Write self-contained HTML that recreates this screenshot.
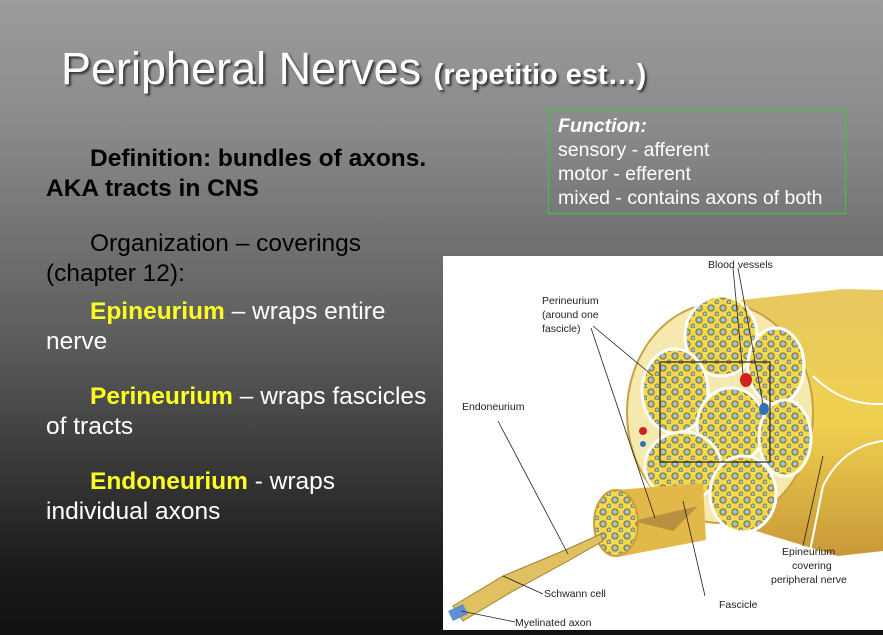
<!DOCTYPE html>
<html><head><style>
body{margin:0;width:883px;height:635px;overflow:hidden;background:linear-gradient(180deg,#9c9c9c 0%,#8a8a8a 20%,#5a5a5a 55%,#1a1a1a 90%,#111 100%);font-family:"Liberation Sans",sans-serif;position:relative}
.t{position:absolute;white-space:nowrap}
h1{position:absolute;left:61px;top:43px;margin:0;font-weight:normal;font-size:45px;color:#fff;text-shadow:2px 2px 2px #333}
h1 span{font-size:29px;font-weight:bold}
.y{color:#ffff22;font-weight:bold}
.b{font-size:24.5px;color:#000;line-height:30px}
.w{font-size:24.5px;color:#fff;line-height:30px}
.box{position:absolute;left:548px;top:108px;width:298px;height:106px;border:1.5px solid #3c3;color:#fff;font-size:19.5px;line-height:24px;padding:5px 0 0 9px;box-sizing:border-box}
</style></head><body>
<h1>Peripheral Nerves <span>(repetitio est…)</span></h1>
<div class="box"><i><b>Function:</b></i><br>sensory - afferent<br>motor - efferent<br>mixed - contains axons of both</div>
<div class="t b" style="left:46px;top:144px;font-weight:bold"><span style="padding-left:44px"></span>Definition: bundles of axons.<br>AKA tracts in CNS</div>
<div class="t b" style="left:46px;top:229px"><span style="padding-left:44px"></span>Organization – coverings<br>(chapter 12):</div>
<div class="t w" style="left:46px;top:297px"><span style="padding-left:44px"></span><span class="y">Epineurium</span> – wraps entire<br>nerve</div>
<div class="t w" style="left:46px;top:382px"><span style="padding-left:44px"></span><span class="y">Perineurium</span> – wraps fascicles<br>of tracts</div>
<div class="t w" style="left:46px;top:467px"><span style="padding-left:44px"></span><span class="y">Endoneurium</span> - wraps<br>individual axons</div>
<svg style="position:absolute;left:443px;top:256px" width="440" height="374" viewBox="0 0 440 374">
<defs>
<pattern id="p" width="12" height="12" patternUnits="userSpaceOnUse">
<rect width="12" height="12" fill="#eedc50"/>
<circle cx="4" cy="4" r="3" fill="#8cc8e0" stroke="#a07030" stroke-width="1.3"/>
<circle cx="10" cy="10" r="2" fill="#8cc8e0" stroke="#a07030" stroke-width="1"/>
</pattern>
<linearGradient id="g" x1="0" y1="0" x2="0" y2="1">
<stop offset="0" stop-color="#e8c860"/><stop offset="0.5" stop-color="#f0d050"/><stop offset="1" stop-color="#c89838"/>
</linearGradient>
</defs>
<rect width="440" height="374" fill="#fff"/>
<path d="M270 47 L400 33 L440 34 L440 295 L395 300 L290 268 Z" fill="url(#g)"/>
<path d="M370 120 Q400 150 440 148" fill="none" stroke="#fff" stroke-width="2"/>
<path d="M365 305 L380 230 Q400 190 440 185" fill="none" stroke="#fff" stroke-width="2"/>
<ellipse cx="277" cy="157" rx="93" ry="110" fill="#f5e9b0" stroke="#c8a040" stroke-width="2"/>
<g fill="url(#p)" stroke="#fff" stroke-width="3">
<ellipse cx="278" cy="80" rx="36" ry="40"/><ellipse cx="333" cy="110" rx="28" ry="38"/>
<ellipse cx="232" cy="135" rx="33" ry="42"/><ellipse cx="288" cy="170" rx="34" ry="38"/>
<ellipse cx="342" cy="182" rx="26" ry="38"/><ellipse cx="240" cy="210" rx="38" ry="34"/>
<ellipse cx="300" cy="238" rx="33" ry="38"/>
</g>
<ellipse cx="303" cy="124" rx="6" ry="7" fill="#d02020"/><ellipse cx="321" cy="153" rx="5" ry="6" fill="#3070c0"/>
<circle cx="200" cy="175" r="4" fill="#d02020"/><circle cx="200" cy="188" r="3" fill="#3070c0"/>
<rect x="217" y="106" width="110" height="100" fill="none" stroke="#222" stroke-width="1.2"/>
<path d="M173 234 L260 227 L263 284 L180 300 Z" fill="#e2b848"/>
<path d="M190 265 L255 250 L230 275 Z" fill="#b89040"/>
<ellipse cx="173" cy="267" rx="22" ry="33" fill="url(#p)" stroke="#c8a040" stroke-width="2"/>
<path d="M10 350 L60 320 L120 295 L158 278 L160 285 L125 305 L70 335 L20 365 Z" fill="#e0c060" stroke="#a08030"/>
<path d="M5 355 L20 348 L25 358 L10 365 Z" fill="#6090d0"/>
<g stroke="#222" stroke-width="0.8" fill="none">
<path d="M290 12 L300 118 M295 12 L320 148"/>
<path d="M150 70 L210 120 M148 72 L212 262"/>
<path d="M55 165 L125 298"/>
<path d="M360 290 L380 200"/>
<path d="M262 340 L240 245"/>
<path d="M100 338 L60 320"/>
<path d="M72 366 L18 355"/>
</g>
<g font-size="10.5" fill="#222" font-family="Liberation Sans,sans-serif">
<text x="265" y="12">Blood vessels</text>
<text x="99" y="48">Perineurium</text><text x="99" y="62">(around one</text><text x="99" y="76">fascicle)</text>
<text x="19" y="154">Endoneurium</text>
<text x="339" y="299">Epineurium</text><text x="349" y="313">covering</text><text x="328" y="327">peripheral nerve</text>
<text x="276" y="352">Fascicle</text>
<text x="101" y="341">Schwann cell</text>
<text x="72" y="370">Myelinated axon</text>
</g>
</svg>
</body></html>
